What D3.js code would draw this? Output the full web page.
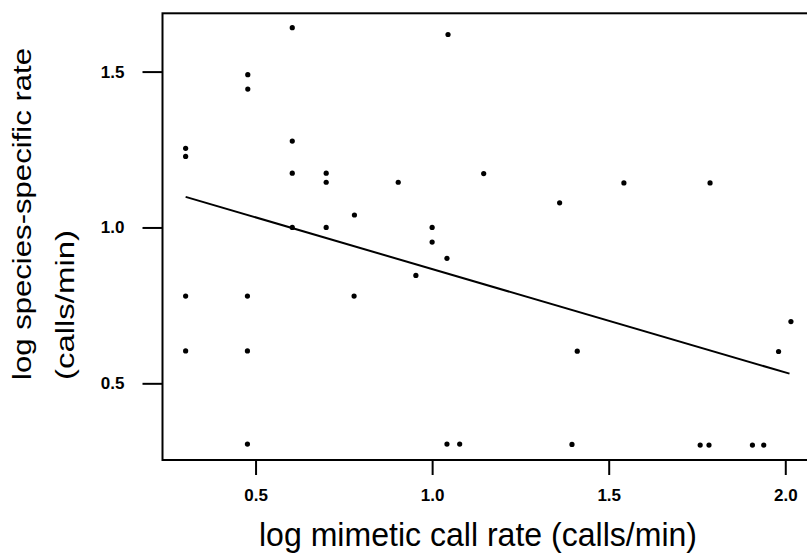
<!DOCTYPE html>
<html>
<head>
<meta charset="utf-8">
<script src="https://cdn.jsdelivr.net/npm/d3@7"></script>
<style>
  body { margin: 0; background: #fff; }
  svg { display: block; }
  .tick text { font-family: "Liberation Sans", Arial, sans-serif; }
</style>
</head>
<body>
<div id="box"></div>
<script>
// log mimetic call rate (x) and log species-specific rate (y)
const mimeticRate = [0.604, 1.045, 0.478, 0.478, 0.302, 0.302, 0.604, 0.604, 0.700, 0.700,
                     0.904, 0.780, 0.604, 0.700, 1.000, 1.146, 1.543, 1.787, 1.361, 1.000,
                     1.042, 0.954, 0.302, 0.477, 0.779, 0.302, 0.477, 0.477, 1.042, 1.078,
                     2.016, 1.981, 1.411, 1.396, 1.759, 1.784, 1.907, 1.939];
const speciesRate = [1.641, 1.619, 1.490, 1.444, 1.254, 1.228, 1.277, 1.174, 1.174, 1.145,
                     1.145, 1.040, 1.000, 1.000, 1.000, 1.173, 1.143, 1.143, 1.079, 0.953,
                     0.901, 0.846, 0.780, 0.780, 0.780, 0.604, 0.604, 0.305, 0.305, 0.305,
                     0.698, 0.602, 0.603, 0.304, 0.302, 0.302, 0.302, 0.302];

// fitted regression line end points
const fitX = [0.302, 2.012];
const fitY = [1.098, 0.531];

const xTicks = [0.5, 1.0, 1.5, 2.0];
const yTicks = [0.5, 1.0, 1.5];

const xTitle = 'log mimetic call rate (calls/min)';
const yTitle = ['log species-specific rate', '(calls/min)'];

const width = 807, height = 556;
const margin = { left: 162.5, top: 13.3, bottom: 460, right: 810 };

const xScale = d3.scaleLinear().domain([0.2365, 2.07]).range([margin.left, margin.right]);
const yScale = d3.scaleLinear().domain([0.254, 1.687]).range([margin.bottom, margin.top]);

const svg = d3.select('#box').append('svg')
  .attr('width', width)
  .attr('height', height);

// frame
svg.append('rect')
  .attr('x', margin.left)
  .attr('y', margin.top)
  .attr('width', margin.right - margin.left)
  .attr('height', margin.bottom - margin.top)
  .attr('fill', 'none')
  .attr('stroke', '#000')
  .attr('stroke-width', 2);

const xAxis = d3.axisBottom(xScale).tickValues(xTicks).tickFormat(d3.format('.1f'))
  .tickSize(15).tickPadding(14);
const yAxis = d3.axisLeft(yScale).tickValues(yTicks).tickFormat(d3.format('.1f'))
  .tickSize(20).tickPadding(18);

const gx = svg.append('g')
  .attr('transform', `translate(0, ${margin.bottom})`)
  .call(xAxis);
const gy = svg.append('g')
  .attr('transform', `translate(${margin.left}, 0)`)
  .call(yAxis);

[gx, gy].forEach(g => {
  g.select('.domain').remove();
  g.selectAll('.tick line').attr('stroke', '#000').attr('stroke-width', 2);
  g.selectAll('.tick text')
    .attr('fill', '#000')
    .style('font-size', '17px')
    .style('font-weight', 'bold');
});

// regression line
svg.append('line')
  .attr('x1', xScale(fitX[0]))
  .attr('y1', yScale(fitY[0]))
  .attr('x2', xScale(fitX[1]))
  .attr('y2', yScale(fitY[1]))
  .attr('stroke', '#000')
  .attr('stroke-width', 2);

// points
svg.selectAll('circle')
  .data(mimeticRate)
  .enter()
  .append('circle')
  .attr('cx', d => xScale(d))
  .attr('cy', (d, i) => yScale(speciesRate[i]))
  .attr('r', 2.6)
  .attr('fill', '#000');

// axis titles
svg.append('text')
  .text(xTitle)
  .attr('x', 259)
  .attr('y', 546)
  .attr('textLength', 438)
  .attr('lengthAdjust', 'spacingAndGlyphs')
  .style('font-family', '"Liberation Sans", Arial, sans-serif')
  .style('font-size', '34px');

yTitle.forEach((t, i) => {
  svg.append('text')
    .text(t)
    .attr('transform', `translate(${i === 0 ? 31 : 74}, 380) rotate(-90)`)
    .attr('textLength', i === 0 ? 332 : 150)
    .attr('lengthAdjust', 'spacingAndGlyphs')
    .style('font-family', '"Liberation Sans", Arial, sans-serif')
    .style('font-size', '26px');
});
</script>
</body>
</html>
